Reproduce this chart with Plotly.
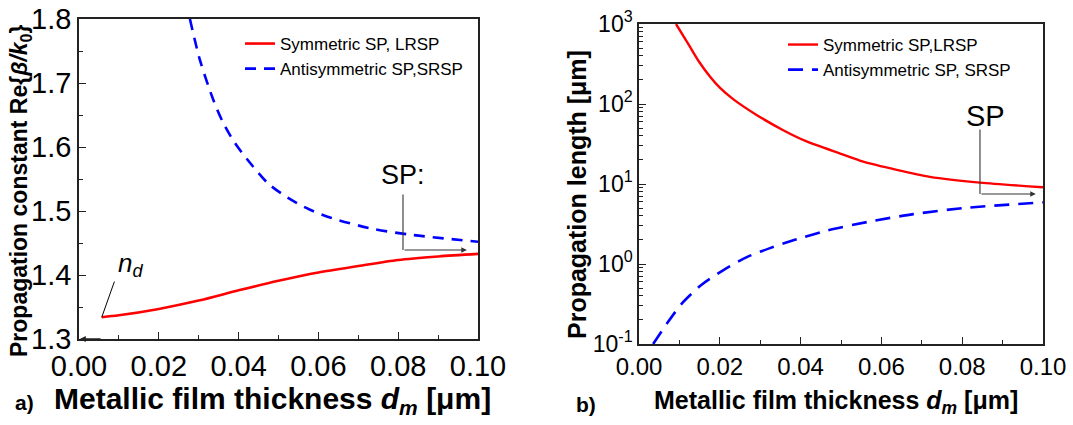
import numpy as np
import plotly.graph_objects as go

# ---- (a) real part of the effective index vs. metal film thickness ----
d_lrsp_a = [0.0057, 0.01, 0.02, 0.03, 0.04, 0.05, 0.06, 0.07, 0.08, 0.09, 0.10]
neff_lrsp = [1.334, 1.337, 1.347, 1.360, 1.376, 1.391, 1.404, 1.414, 1.4235, 1.429, 1.433]

d_srsp_a = [0.0278, 0.0303, 0.0337, 0.0362, 0.0391, 0.0429, 0.0474, 0.0525,
            0.0579, 0.0633, 0.0737, 0.0837, 0.10]
neff_srsp = [1.800, 1.736, 1.673, 1.637, 1.606, 1.575, 1.543, 1.520,
             1.502, 1.489, 1.472, 1.4625, 1.452]

# ---- (b) propagation length vs. metal film thickness ----
d_lrsp_b = [0.00916, 0.0126, 0.0150, 0.0176, 0.0200, 0.0233, 0.0291, 0.0357, 0.0415,
            0.0498, 0.0555, 0.0638, 0.072, 0.0844, 0.10]
len_lrsp = [1000, 520, 330, 219, 160, 115, 73, 47, 34, 24, 19, 15, 12.3, 10.4, 9.1]

d_srsp_b = [0.0035, 0.0069, 0.0106, 0.0155, 0.0209, 0.0267, 0.0324, 0.0382,
            0.0465, 0.0572, 0.0679, 0.0803, 0.10]
len_srsp = [0.1, 0.18, 0.32, 0.55, 0.84, 1.22, 1.58, 1.98, 2.62, 3.4, 4.2, 5.0, 5.9]

x_ticks = [0.0, 0.02, 0.04, 0.06, 0.08, 0.10]
y_ticks_a = [1.3, 1.4, 1.5, 1.6, 1.7, 1.8]
y_ticks_b = [0.1, 1, 10, 100, 1000]
y_ticktext_b = ["10<sup>-1</sup>", "10<sup>0</sup>", "10<sup>1</sup>",
                "10<sup>2</sup>", "10<sup>3</sup>"]

FONT = "Arial, Liberation Sans, sans-serif"
RED = "#ff0000"
BLUE = "#0000ff"
W, H = 1073, 425

fig = go.Figure()

fig.add_trace(go.Scatter(
    x=d_lrsp_a, y=neff_lrsp, mode="lines",
    line=dict(color=RED, width=2.6, shape="spline", smoothing=0.8),
    name="Symmetric SP, LRSP", xaxis="x", yaxis="y", legend="legend"))
fig.add_trace(go.Scatter(
    x=d_srsp_a, y=neff_srsp, mode="lines",
    line=dict(color=BLUE, width=2.6, dash="11px,8px", shape="spline", smoothing=0.8),
    name="Antisymmetric SP,SRSP", xaxis="x", yaxis="y", legend="legend"))

fig.add_trace(go.Scatter(
    x=d_lrsp_b, y=len_lrsp, mode="lines",
    line=dict(color=RED, width=2.4, shape="spline", smoothing=0.7),
    name="Symmetric SP,LRSP", xaxis="x2", yaxis="y2", legend="legend2"))
fig.add_trace(go.Scatter(
    x=d_srsp_b, y=len_srsp, mode="lines",
    line=dict(color=BLUE, width=2.6, dash="15px,9px", shape="spline", smoothing=0.7),
    name="Antisymmetric SP, SRSP", xaxis="x2", yaxis="y2", legend="legend2"))


def px_x(p):
    return p / W


def px_y(p):
    return 1 - p / H


axis_common = dict(showline=True, linecolor="#222", linewidth=1.5, mirror=True,
                   ticks="inside", ticklen=7, tickwidth=1.2, tickcolor="#222",
                   showgrid=False, zeroline=False, automargin=False)

minor_log = [m * 10.0 ** e for e in range(-1, 3) for m in range(2, 10)]

fig.update_layout(
    template="none",
    width=W, height=H, margin=dict(l=0, r=0, t=0, b=0, pad=0),
    paper_bgcolor="white", plot_bgcolor="white",
    font=dict(family=FONT, color="black"),
    xaxis=dict(domain=[px_x(79), px_x(478)], range=[0, 0.1], tickvals=x_ticks,
               tickformat=".2f", tickfont=dict(size=29), anchor="y",
               minor=dict(dtick=0.01, ticks="inside", ticklen=4, tickcolor="#222"),
               **axis_common),
    yaxis=dict(domain=[px_y(339), px_y(19)], range=[1.3, 1.8], tickvals=y_ticks_a,
               tickformat=".1f", tickfont=dict(size=29), anchor="x",
               minor=dict(dtick=0.05, ticks="inside", ticklen=4, tickcolor="#222"),
               **axis_common),
    xaxis2=dict(domain=[px_x(639), px_x(1043)], range=[0, 0.1], tickvals=x_ticks,
                tickformat=".2f", tickfont=dict(size=24), anchor="y2",
                minor=dict(dtick=0.01, ticks="inside", ticklen=4, tickcolor="#222"),
                **axis_common),
    yaxis2=dict(domain=[px_y(344), px_y(24)], type="log", range=[-1, 3],
                tickvals=y_ticks_b, ticktext=y_ticktext_b, tickfont=dict(size=23),
                anchor="x2",
                minor=dict(tickvals=minor_log, ticks="inside", ticklen=4, tickcolor="#222"),
                **axis_common),
    legend=dict(x=px_x(240), y=px_y(26), xanchor="left", yanchor="top",
                bgcolor="rgba(0,0,0,0)", font=dict(size=17, family=FONT),
                tracegroupgap=0, itemwidth=30),
    legend2=dict(x=px_x(783), y=px_y(27), xanchor="left", yanchor="top",
                 bgcolor="rgba(0,0,0,0)", font=dict(size=17, family=FONT),
                 tracegroupgap=0, itemwidth=30),
)

ann = []
# axis titles
ann.append(dict(xref="paper", yref="paper", x=px_x(13), y=px_y(402), xanchor="left",
                yanchor="middle", text="<b>a)</b>", showarrow=False,
                font=dict(size=21, family=FONT)))
ann.append(dict(xref="paper", yref="paper", x=px_x(52), y=px_y(400), xanchor="left",
                yanchor="middle",
                text="<b>Metallic film thickness <i>d</i><sub><i>m</i></sub> [μm]</b>",
                showarrow=False, font=dict(size=30, family=FONT)))
ann.append(dict(xref="paper", yref="paper", x=px_x(574), y=px_y(404), xanchor="left",
                yanchor="middle", text="<b>b)</b>", showarrow=False,
                font=dict(size=21, family=FONT)))
ann.append(dict(xref="paper", yref="paper", x=px_x(652), y=px_y(402), xanchor="left",
                yanchor="middle",
                text="<b>Metallic film thickness <i>d</i><sub><i>m</i></sub> [μm]</b>",
                showarrow=False, font=dict(size=25, family=FONT)))
ann.append(dict(xref="paper", yref="paper", x=px_x(20), y=px_y(191), xanchor="center",
                yanchor="middle", textangle=-90,
                text="<b>Propagation constant Re{<i>β/k</i><sub>0</sub>}</b>",
                showarrow=False, font=dict(size=23, family=FONT)))
ann.append(dict(xref="paper", yref="paper", x=px_x(577), y=px_y(195), xanchor="center",
                yanchor="middle", textangle=-90,
                text="<b>Propagation length [μm]</b>",
                showarrow=False, font=dict(size=25, family=FONT)))

# (a) n_d marker at the start of the LRSP curve
ann.append(dict(xref="x", yref="y", x=0.0128, y=1.416, text="<i>n<sub>d</sub></i>",
                showarrow=False, font=dict(size=26, family=FONT)))
ann.append(dict(xref="x", yref="y", x=d_lrsp_a[0], y=neff_lrsp[0], ax=0.0090, ay=1.392,
                axref="x", ayref="y", text="", showarrow=True, arrowhead=0,
                arrowwidth=1, arrowcolor="black"))
# small arrow on the bottom axis
ann.append(dict(xref="x", yref="y", x=0.0002, y=1.3, ax=0.0058, ay=1.3,
                axref="x", ayref="y", text="", showarrow=True, arrowhead=2,
                arrowsize=0.8, arrowwidth=1.5, arrowcolor="#222"))

# (a) SP limit label with bracket arrow
ann.append(dict(xref="x", yref="y", x=0.0812, y=1.556, text="SP:", showarrow=False,
                font=dict(size=27, family=FONT)))
ann.append(dict(xref="x", yref="y", x=0.0812, y=1.439, ax=0.0812, ay=1.528,
                axref="x", ayref="y", text="", showarrow=True, arrowhead=0,
                arrowwidth=1.1, arrowcolor="#333"))
ann.append(dict(xref="x", yref="y", x=0.0972, y=1.439, ax=0.0812, ay=1.439,
                axref="x", ayref="y", text="", showarrow=True, arrowhead=2,
                arrowsize=1, arrowwidth=1.1, arrowcolor="#333"))

# (b) SP limit label with bracket arrow
ann.append(dict(xref="x2", yref="y2", x=0.0858, y=np.log10(71), text="SP",
                showarrow=False, font=dict(size=29, family=FONT)))
ann.append(dict(xref="x2", yref="y2", x=0.0844, y=np.log10(7.5), ax=0.0844,
                ay=np.log10(50), axref="x2", ayref="y2", text="", showarrow=True,
                arrowhead=0, arrowwidth=1.1, arrowcolor="#333"))
ann.append(dict(xref="x2", yref="y2", x=0.0982, y=np.log10(7.5), ax=0.0844,
                ay=np.log10(7.5), axref="x2", ayref="y2", text="", showarrow=True,
                arrowhead=2, arrowsize=1, arrowwidth=1.1, arrowcolor="#333"))

fig.update_layout(annotations=ann)

fig.write_html("out.html")
